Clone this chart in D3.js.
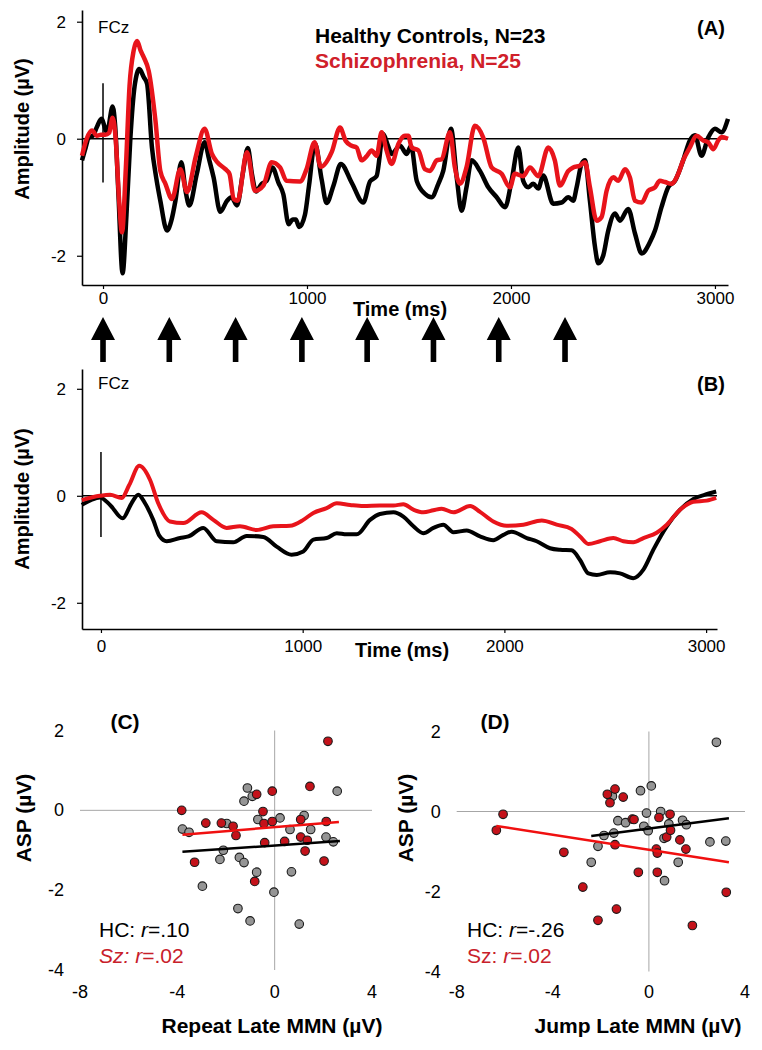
<!DOCTYPE html>
<meta charset="utf-8">
<script src="https://d3js.org/d3.v7.min.js"></script>
<style>
body { margin: 0; background: #fff; }
svg { font-family: "Liberation Sans", Arial, sans-serif; }
.tick text { font-size: 17px; }
</style>
<body>
<script>

// ---- data ----
// panel A: mean ERP at FCz, [time ms, amplitude uV]
var hcA = [[-103,-0.37],[-85,-0.15],[-70,0.02],[-50,0.05],[-30,0.2],[-8,0.34],[20,0.11],[47,0.55],[60,0.2],[75,-0.9],[96,-2.3],[115,-1.3],[134,0],[155,0.9],[178,1.19],[200,1.05],[216,0.94],[240,-0.15],[260,-0.65],[281,-1.06],[314,-1.57],[335,-1.4],[355,-1.06],[384,-0.4],[405,-0.9],[423,-1.14],[460,-0.6],[498,-0.06],[520,-0.35],[542,-0.66],[575,-1.25],[608,-1.06],[630,-1.0],[657,-1.14],[685,-0.6],[710,-0.16],[730,-0.6],[750,-0.9],[778,-0.77],[802,-0.72],[830,-0.49],[860,-0.75],[884,-0.95],[910,-1.46],[930,-1.38],[945,-1.38],[962,-1.51],[990,-1.3],[1010,-0.8],[1039,-0.08],[1072,-0.7],[1096,-1.1],[1130,-0.8],[1166,-0.43],[1219,-0.75],[1276,-1.09],[1309,-0.73],[1341,-0.64],[1374,0.08],[1395,-0.1],[1415,-0.26],[1456,-0.12],[1489,-0.26],[1510,-0.12],[1538,-0.72],[1578,-0.94],[1611,-1.0],[1644,-0.77],[1668,-0.55],[1706,0.17],[1734,-0.66],[1758,-1.23],[1782,-0.83],[1807,-0.37],[1848,-0.55],[1889,-0.83],[1930,-1.0],[1971,-1.17],[2003,-0.72],[2036,-0.15],[2060,-0.72],[2085,-0.83],[2109,-0.77],[2134,-0.85],[2158,-0.63],[2207,-1.11],[2248,-1.09],[2281,-1.0],[2305,-1.06],[2322,-0.83],[2346,-0.43],[2363,-0.37],[2387,-1.06],[2412,-1.85],[2428,-2.13],[2452,-2.0],[2477,-1.57],[2510,-1.28],[2534,-1.4],[2575,-1.2],[2608,-1.62],[2641,-1.96],[2681,-1.77],[2706,-1.57],[2738,-1.17],[2771,-0.83],[2804,-0.72],[2844,-0.37],[2877,-0.03],[2902,0.06],[2934,-0.29],[2967,0.02],[3000,0.17],[3032,0.11],[3064,0.34]];
var szA = [[-103,-0.29],[-80,0.0],[-54,0.14],[-30,0.05],[-10,0.07],[11,0.07],[30,0.1],[47,0.36],[62,0.0],[78,-1.0],[93,-1.6],[112,-0.5],[130,0.9],[150,1.5],[167,1.67],[185,1.5],[200,1.39],[224,1.16],[257,0.31],[281,-0.55],[306,-0.77],[338,-1.03],[379,-0.52],[412,-0.91],[455,-0.3],[498,0.17],[534,-0.26],[560,-0.4],[600,-0.52],[620,-0.6],[641,-1.03],[660,-1.06],[706,-0.23],[745,-0.89],[786,-0.8],[827,-0.4],[868,-0.49],[900,-0.72],[966,-0.73],[998,-0.52],[1037,-0.06],[1068,-0.48],[1121,-0.23],[1162,0.19],[1190,-0.04],[1219,-0.12],[1243,-0.15],[1268,-0.37],[1292,-0.3],[1317,-0.2],[1341,-0.29],[1366,0.11],[1390,-0.2],[1415,-0.43],[1448,-0.09],[1480,0.05],[1497,0.05],[1513,-0.15],[1546,-0.2],[1578,-0.52],[1603,-0.55],[1636,-0.37],[1660,-0.35],[1701,0.11],[1725,-0.49],[1750,-0.77],[1782,-0.49],[1823,0.22],[1864,0.02],[1905,-0.49],[1954,-0.6],[1995,-0.83],[2019,-0.6],[2060,-0.64],[2093,-0.49],[2134,-0.64],[2183,-0.15],[2215,-0.37],[2240,-0.8],[2281,-0.55],[2305,-0.49],[2338,-0.46],[2363,-0.4],[2387,-0.83],[2420,-1.4],[2444,-1.34],[2469,-0.89],[2502,-0.66],[2526,-0.72],[2559,-0.52],[2583,-0.66],[2608,-1.06],[2641,-1.09],[2673,-0.89],[2706,-0.83],[2730,-0.72],[2755,-0.74],[2787,-0.77],[2820,-0.6],[2844,-0.37],[2877,-0.15],[2910,0.05],[2943,-0.03],[2967,-0.06],[2992,-0.18],[3016,-0.03],[3032,0.03],[3064,0.0]];

// panel B: averaged ERP
var hcB = [[-95,-0.17],[-50,-0.08],[-5,-0.03],[45,-0.17],[108,-0.42],[150,-0.15],[185,0.02],[220,-0.15],[259,-0.45],[290,-0.75],[326,-0.85],[392,-0.79],[434,-0.76],[507,-0.6],[574,-0.85],[656,-0.87],[722,-0.75],[805,-0.77],[871,-0.95],[945,-1.1],[1003,-1.04],[1053,-0.82],[1119,-0.79],[1169,-0.7],[1218,-0.72],[1268,-0.72],[1334,-0.45],[1383,-0.34],[1450,-0.31],[1499,-0.39],[1549,-0.57],[1598,-0.7],[1648,-0.6],[1697,-0.54],[1747,-0.68],[1813,-0.65],[1879,-0.76],[1945,-0.83],[1995,-0.73],[2036,-0.67],[2111,-0.79],[2160,-0.85],[2226,-0.98],[2276,-1.01],[2333,-1.02],[2375,-1.2],[2416,-1.45],[2458,-1.48],[2524,-1.43],[2573,-1.45],[2639,-1.54],[2689,-1.38],[2738,-1.01],[2805,-0.57],[2871,-0.26],[2937,-0.06],[2995,0.02],[3050,0.08]];
var szB = [[-95,-0.08],[-5,0.0],[45,0.02],[103,-0.04],[140,0.2],[190,0.56],[243,0.3],[284,-0.14],[342,-0.48],[408,-0.51],[499,-0.31],[557,-0.45],[623,-0.6],[689,-0.57],[772,-0.64],[854,-0.57],[937,-0.56],[1003,-0.45],[1053,-0.32],[1119,-0.23],[1169,-0.14],[1235,-0.17],[1301,-0.19],[1383,-0.18],[1450,-0.18],[1499,-0.16],[1549,-0.26],[1598,-0.31],[1648,-0.27],[1689,-0.24],[1747,-0.31],[1830,-0.19],[1879,-0.3],[1945,-0.48],[2011,-0.56],[2094,-0.54],[2185,-0.46],[2259,-0.54],[2333,-0.62],[2375,-0.76],[2416,-0.9],[2474,-0.85],[2540,-0.79],[2590,-0.85],[2639,-0.87],[2689,-0.79],[2755,-0.69],[2805,-0.54],[2871,-0.26],[2937,-0.11],[3003,-0.09],[3050,-0.04]];

// tone onsets (arrows)
var stimTimes = [0, 325, 650, 975, 1295, 1620, 1940, 2265];
var timeTicks = [0, 1000, 2000, 3000];
var ampTicks = [-2, 0, 2];

// panel C: repeat late MMN vs ASP, [x, y]
var szC = [[-3.82,0.0],[-2.83,-0.32],[-2.19,-0.32],[-1.71,-0.4],[-1.59,-0.63],[-3.29,-1.3],[-0.74,0.4],[-0.48,-0.03],[-0.44,-0.33],[-0.1,0.48],[-0.1,-0.28],[-0.41,-0.81],[-0.82,-1.78],[0.41,-0.78],[1.07,-0.23],[1.07,-0.67],[1.25,-1.02],[1.34,-0.75],[1.45,0.6],[2.12,-0.28],[2.03,-1.27],[2.19,1.73]];
var hcC = [[-3.79,-0.47],[-3.52,-0.55],[-2.97,-1.9],[-2.25,-1.23],[-2.11,-1.0],[-1.97,-0.33],[-1.51,-2.46],[-1.45,-1.18],[-1.26,-1.31],[-1.12,0.56],[-1.26,0.23],[-0.92,0.35],[-1.01,-2.77],[-0.74,-1.55],[-0.69,-0.23],[0.22,-0.19],[-0.03,-2.05],[0.63,-0.48],[0.69,-1.54],[1.01,-2.85],[1.21,-0.13],[1.48,-0.48],[2.11,-0.67],[2.57,0.48],[2.41,-0.79]];
var szFitC = [[-3.79,-0.61],[2.64,-0.29]];
var hcFitC = [[-3.79,-1.04],[2.68,-0.77]];

// panel D: jump late MMN vs ASP
var szD = [[-6.07,-0.07],[-6.35,-0.47],[-3.54,-1.02],[-2.75,-1.89],[-2.12,-2.72],[-1.73,0.43],[-1.62,0.22],[-1.41,0.56],[-1.07,0.36],[-1.41,-0.83],[-1.35,-2.44],[-0.69,-0.19],[-0.62,-0.2],[-0.44,-1.52],[0.31,-0.94],[0.35,-1.04],[0.35,-1.52],[0.42,-0.15],[0.74,-0.64],[0.88,-0.07],[0.9,-0.47],[1.29,-0.71],[1.54,-0.94],[1.81,-2.85],[3.22,-2.02]];
var hcD = [[-2.4,-1.27],[-2.12,-0.87],[-1.87,-0.6],[-1.46,-0.54],[-1.52,0.38],[-1.29,-0.23],[-0.97,-0.28],[-0.35,0.52],[-0.21,-0.37],[-0.1,-0.04],[-0.03,-0.48],[0.1,0.64],[0.49,0.0],[0.63,-0.67],[0.65,-1.73],[0.83,-0.31],[1.22,-1.27],[1.4,-0.22],[1.56,-0.33],[2.54,-0.76],[3.2,-0.74],[2.81,1.73]];
var hcFitD = [[-2.4,-0.61],[3.33,-0.17]];
var szFitD = [[-6.35,-0.36],[3.33,-1.27]];
var mmnTicks = [-8, -4, 0, 4];
var aspTicks = [-4, -2, 0, 2];

var RED = "#e8141b";

var svg = d3.select("body").append("svg")
    .attr("width", 762)
    .attr("height", 1050);

svg.append("rect").attr("width", 762).attr("height", 1050).attr("fill", "#fff");

// ---- ERP panels ----
function erpPanel(p) {
  var x = d3.scaleLinear().domain(p.xDomain).range(p.xRange);
  var y = d3.scaleLinear().domain(p.yDomain).range(p.yRange);
  var g = svg.append("g");

  var yAxis = g.append("g")
    .attr("transform", "translate(" + p.xRange[0] + ",0)")
    .call(d3.axisLeft(y).tickValues(ampTicks).tickFormat(String).tickSize(5).tickPadding(11).tickSizeOuter(0));
  var xAxis = g.append("g")
    .attr("transform", "translate(0," + p.yRange[0] + ")")
    .call(d3.axisBottom(x).tickValues(timeTicks).tickFormat(String).tickSize(4).tickPadding(p.xPad).tickSizeOuter(0));
  [yAxis, xAxis].forEach(function(a) {
    a.select(".domain").attr("stroke-width", 1.6);
    a.selectAll(".tick line").attr("stroke-width", 1.2);
    a.selectAll("text").attr("fill", "#000");
  });

  // baseline and onset marker
  g.append("line")
    .attr("x1", x(p.xDomain[0])).attr("x2", x(p.xDomain[1]))
    .attr("y1", y(0)).attr("y2", y(0))
    .attr("stroke", "#000").attr("stroke-width", 1.5);
  g.append("line")
    .attr("x1", x(0)).attr("x2", x(0))
    .attr("y1", y(p.onset[0])).attr("y2", y(p.onset[1]))
    .attr("stroke", "#000").attr("stroke-width", 1.5);

  var line = d3.line()
    .x(function(d) { return x(d[0]); })
    .y(function(d) { return y(d[1]); })
    .curve(d3.curveMonotoneX);

  g.append("path").datum(p.hc)
    .attr("d", line).attr("fill", "none")
    .attr("stroke", "#000").attr("stroke-width", p.lw).attr("stroke-linejoin", "round");
  g.append("path").datum(p.sz)
    .attr("d", line).attr("fill", "none")
    .attr("stroke", RED).attr("stroke-width", p.lw).attr("stroke-linejoin", "round");

  g.append("text")
    .attr("x", 98).attr("y", p.fczY)
    .style("font-size", "17px")
    .text("FCz");
  g.append("text")
    .attr("x", 711).attr("y", p.tagY)
    .attr("text-anchor", "middle")
    .style("font-size", "20px").style("font-weight", "bold")
    .text(p.tag);
  g.append("text")
    .attr("x", p.timeX).attr("y", p.timeY)
    .attr("text-anchor", "middle")
    .style("font-size", "20px").style("font-weight", "bold")
    .text("Time (ms)");
  g.append("text")
    .attr("transform", "translate(29," + p.ampY + ") rotate(-90)")
    .attr("text-anchor", "middle")
    .style("font-size", "20px").style("font-weight", "bold")
    .text("Amplitude (\u00b5V)");
  return x;
}

var xA = erpPanel({
  xDomain: [-103, 3064], xRange: [82, 728],
  yDomain: [-2.5, 2.2], yRange: [285, 10],
  hc: hcA, sz: szA, lw: 4.5, onset: [0.95, -0.75],
  xPad: 3, fczY: 33, tag: "(A)", tagY: 35, timeX: 400, timeY: 316, ampY: 129
});

erpPanel({
  xDomain: [-94, 3054], xRange: [82, 717],
  yDomain: [-2.49, 2.37], yRange: [629, 369],
  hc: hcB, sz: szB, lw: 4, onset: [0.82, -0.77],
  xPad: 7, fczY: 389, tag: "(B)", tagY: 391, timeX: 402, timeY: 657, ampY: 499
});

// legend
svg.append("text").attr("x", 315).attr("y", 43)
  .style("font-size", "21px").style("font-weight", "bold")
  .text("Healthy Controls, N=23");
svg.append("text").attr("x", 315).attr("y", 68)
  .style("font-size", "21px").style("font-weight", "bold").attr("fill", "#d0202a")
  .text("Schizophrenia, N=25");

// stimulus arrows
svg.append("g").selectAll("path")
  .data(stimTimes)
  .enter()
  .append("path")
    .attr("transform", function(d) { return "translate(" + xA(d) + ",317)"; })
    .attr("d", "M0,0 L12,23 L2.8,23 L2.8,45 L-2.8,45 L-2.8,23 L-12,23 Z")
    .attr("fill", "#000");

// ---- scatter panels ----
function scatterPanel(p) {
  var x = d3.scaleLinear().domain([-8, 4]).range(p.xRange);
  var y = d3.scaleLinear().domain([-4, 2]).range(p.yRange);
  var g = svg.append("g");

  g.append("line")
    .attr("x1", x(-8)).attr("x2", x(4)).attr("y1", y(0)).attr("y2", y(0))
    .attr("stroke", "#a6a6a6").attr("stroke-width", 1);
  g.append("line")
    .attr("x1", x(0)).attr("x2", x(0)).attr("y1", y(2)).attr("y2", y(-4))
    .attr("stroke", "#a6a6a6").attr("stroke-width", 1);

  g.selectAll(".yl").data(aspTicks).enter().append("text")
    .attr("x", p.xRange[0] - 16).attr("y", function(d) { return y(d) + 6; })
    .attr("text-anchor", "end").style("font-size", "18px")
    .text(function(d) { return d; });
  g.selectAll(".xl").data(mmnTicks).enter().append("text")
    .attr("x", function(d) { return x(d); }).attr("y", 998)
    .attr("text-anchor", "middle").style("font-size", "18px")
    .text(function(d) { return d; });

  g.append("g").selectAll("circle").data(p.hc).enter().append("circle")
    .attr("cx", function(d) { return x(d[0]); })
    .attr("cy", function(d) { return y(d[1]); })
    .attr("r", 4.3).attr("fill", "#959595").attr("stroke", "#1a1a1a").attr("stroke-width", 1.1);
  g.append("g").selectAll("circle").data(p.sz).enter().append("circle")
    .attr("cx", function(d) { return x(d[0]); })
    .attr("cy", function(d) { return y(d[1]); })
    .attr("r", 4.3).attr("fill", "#c4121a").attr("stroke", "#1a1a1a").attr("stroke-width", 1.1);

  var line = d3.line().x(function(d) { return x(d[0]); }).y(function(d) { return y(d[1]); });
  g.append("path").datum(p.hcFit).attr("d", line)
    .attr("stroke", "#000").attr("stroke-width", 2.5).attr("fill", "none");
  g.append("path").datum(p.szFit).attr("d", line)
    .attr("stroke", "#f01010").attr("stroke-width", 2.5).attr("fill", "none");

  g.append("text").attr("x", p.tagX).attr("y", 729)
    .attr("text-anchor", "middle")
    .style("font-size", "21px").style("font-weight", "bold").text(p.tag);
  g.append("text")
    .attr("transform", "translate(" + p.aspX + ",818) rotate(-90)")
    .attr("text-anchor", "middle")
    .style("font-size", "21px").style("font-weight", "bold")
    .text("ASP (\u00b5V)");
  g.append("text").attr("x", p.titleX).attr("y", 1033)
    .attr("text-anchor", "middle")
    .style("font-size", "21px").style("font-weight", "bold").text(p.title);

  var hc = g.append("text").attr("x", p.statX).attr("y", 937).style("font-size", "21px");
  hc.append("tspan").text("HC: ");
  hc.append("tspan").style("font-style", "italic").text("r");
  hc.append("tspan").text(p.hcR);
  var sz = g.append("text").attr("x", p.statX).attr("y", 963).style("font-size", "21px").attr("fill", "#c8202a");
  sz.append("tspan").style("font-style", p.szItalic ? "italic" : "normal").text("Sz: ");
  sz.append("tspan").style("font-style", "italic").text("r");
  sz.append("tspan").text(p.szR);
}

scatterPanel({
  xRange: [80, 372], yRange: [970, 730.5],
  hc: hcC, sz: szC, hcFit: hcFitC, szFit: szFitC,
  tag: "(C)", tagX: 125, aspX: 31, title: "Repeat Late MMN (\u00b5V)", titleX: 272,
  statX: 99, hcR: "=.10", szR: "=.02", szItalic: true
});

scatterPanel({
  xRange: [456.7, 745], yRange: [971.5, 731.5],
  hc: hcD, sz: szD, hcFit: hcFitD, szFit: szFitD,
  tag: "(D)", tagX: 495, aspX: 413, title: "Jump Late MMN (\u00b5V)", titleX: 638,
  statX: 467, hcR: "=-.26", szR: "=.02", szItalic: false
});

</script>
</body>
